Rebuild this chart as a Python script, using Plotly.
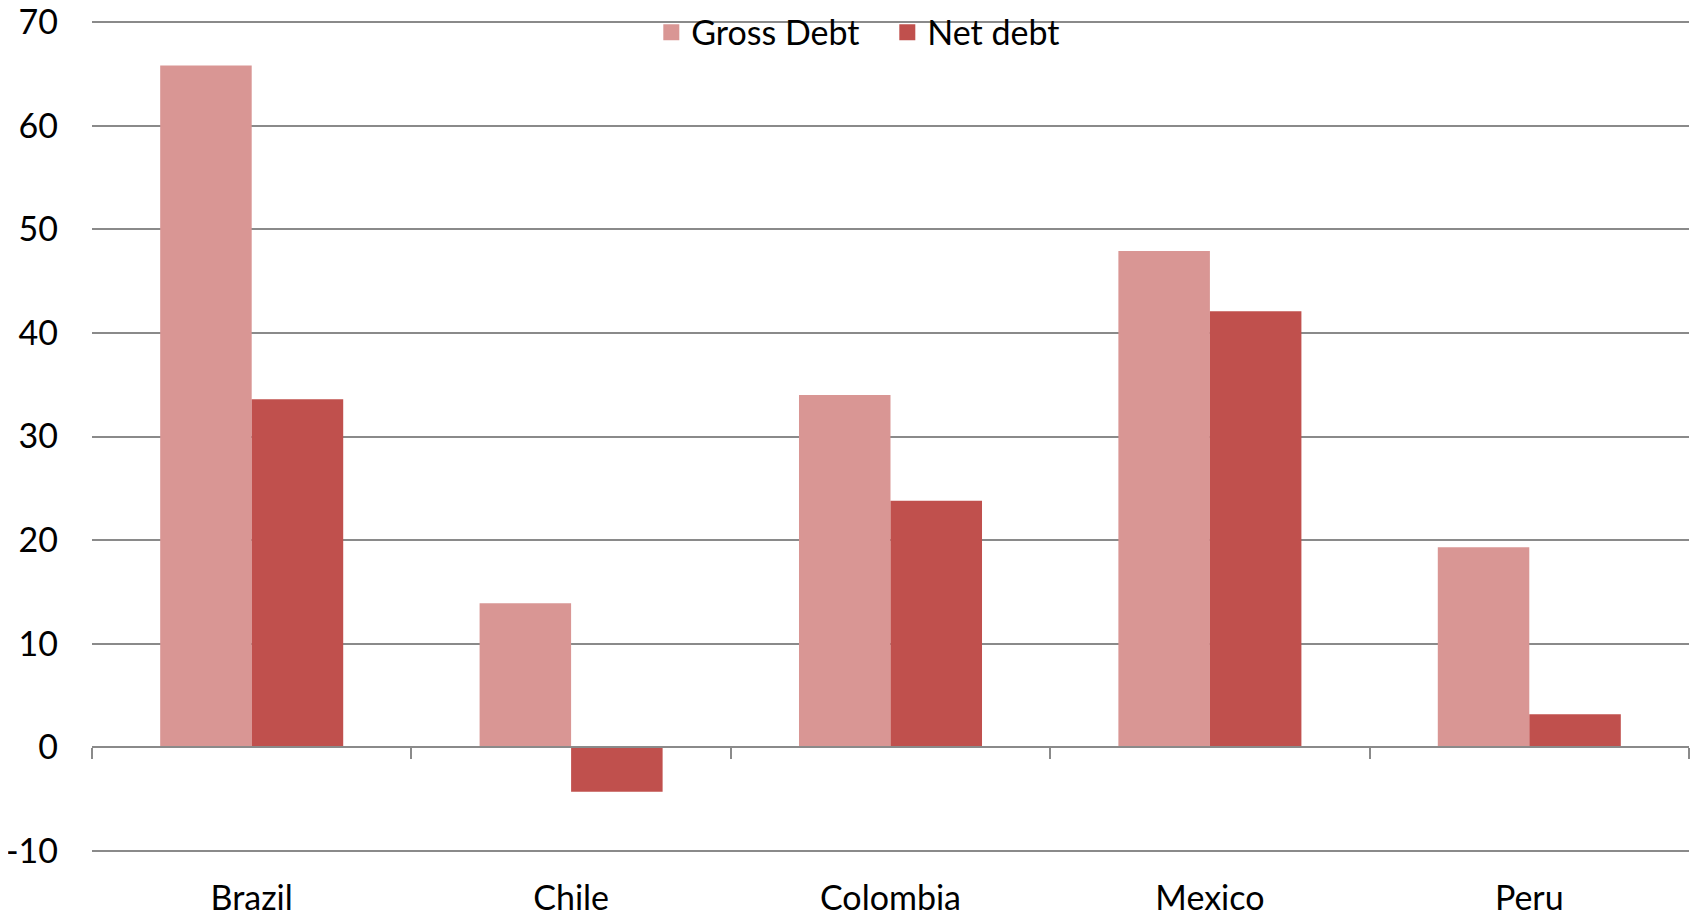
import plotly.graph_objects as go

categories = ["Brazil", "Chile", "Colombia", "Mexico", "Peru"]
gross_debt = [65.8, 13.9, 34.0, 47.9, 19.3]
net_debt = [33.6, -4.3, 23.8, 42.1, 3.2]
y_ticks = [-10, 0, 10, 20, 30, 40, 50, 60, 70]
y_tick_labels = ["-10", "0", "10", "20", "30", "40", "50", "60", "70"]

GROSS_COLOR = "#D99694"
NET_COLOR = "#C0504D"
GRID = "#8a8a8a"
FONT = "Lato"

fig = go.Figure()
fig.add_trace(go.Bar(x=categories, y=gross_debt, name="Gross Debt",
                     marker=dict(color=GROSS_COLOR, line=dict(width=0)), showlegend=False))
fig.add_trace(go.Bar(x=categories, y=net_debt, name="Net debt",
                     marker=dict(color=NET_COLOR, line=dict(width=0)), showlegend=False))
# legend entries
fig.add_trace(go.Scatter(x=[None], y=[None], mode="markers", name="Gross Debt",
                         marker=dict(symbol="square", size=22, color=GROSS_COLOR)))
fig.add_trace(go.Scatter(x=[None], y=[None], mode="markers", name="Net debt",
                         marker=dict(symbol="square", size=22, color=NET_COLOR)))
# category axis drawn at zero
fig.add_trace(go.Scatter(x=categories, y=[0] * len(categories), xaxis="x2", mode="markers",
                         marker=dict(opacity=0), showlegend=False, hoverinfo="skip"))

fig.update_layout(
    width=1690, height=909,
    margin=dict(l=84, r=9, t=12, b=64, autoexpand=False),
    plot_bgcolor="white", paper_bgcolor="white",
    barmode="group", bargap=0.427, bargroupgap=0,
    font=dict(family=FONT, size=34, color="black"),
    legend=dict(orientation="h", x=0.498, y=0.973, xref="paper", yref="container",
                xanchor="center", yanchor="middle",
                bgcolor="rgba(0,0,0,0)", font=dict(size=34), itemsizing="trace",
                itemwidth=30, entrywidth=191, traceorder="normal"),
    xaxis=dict(type="category", categoryorder="array", categoryarray=categories,
               range=[-0.5, 4.5], showline=False, showgrid=False, ticks="",
               automargin=False, ticklabelstandoff=22, tickfont=dict(size=34),
               ticklabeloverflow="allow"),
    xaxis2=dict(type="category", categoryorder="array", categoryarray=categories,
                range=[-0.5, 4.5], overlaying="x", anchor="free",
                position=10.2 / 80.4,
                showline=True, linecolor=GRID, linewidth=2, ticks="outside",
                tickson="boundaries", ticklen=11, tickwidth=2, tickcolor=GRID,
                showticklabels=False, showgrid=False, automargin=False),
    yaxis=dict(range=[-10.2, 70.2], tickvals=y_ticks, ticktext=y_tick_labels,
               showgrid=True, gridcolor=GRID, gridwidth=2, zeroline=False,
               showline=False, ticks="", automargin=False,
               ticklabelstandoff=33, tickfont=dict(size=34),
               ticklabeloverflow="allow"),
)

fig.write_html("out.html")
